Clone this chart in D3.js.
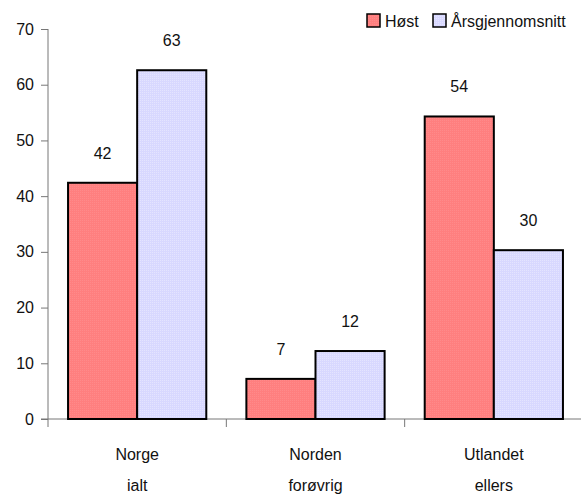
<!DOCTYPE html>
<html>
<head>
<meta charset="utf-8">
<script src="https://cdn.jsdelivr.net/npm/d3@7"></script>
<style>
  body { margin: 0; background: #fff; }
  svg { display: block; font-family: "Liberation Sans", Arial, sans-serif; }
</style>
</head>
<body>
<svg id="chart" width="581" height="494"></svg>
<script>
const categories = [["Norge", "ialt"], ["Norden", "forøvrig"], ["Utlandet", "ellers"]];
const seriesNames = ["Høst", "Årsgjennomsnitt"];
const host = [42.4, 7.2, 54.3];
const aarsgjennomsnitt = [62.6, 12.2, 30.3];
const hostLabels = ["42", "7", "54"];
const aarsLabels = ["63", "12", "30"];
const yTicks = [0, 10, 20, 30, 40, 50, 60, 70];

const colors = ["#ff7f7f", "#d8d8ff"];
const svg = d3.select("#chart");

// pattern fills to mimic dithered texture
const defs = svg.append("defs");
colors.forEach((c, i) => {
  const p = defs.append("pattern").attr("id", "pat" + i).attr("width", 2).attr("height", 2)
    .attr("patternUnits", "userSpaceOnUse");
  p.append("rect").attr("width", 2).attr("height", 2).attr("fill", c);
  p.append("rect").attr("width", 1).attr("height", 1).attr("fill", i === 0 ? "#ff8a8a" : "#e4e4ff");
});

const x0 = 48, x1 = 583, yTop = 29, yBot = 419;
const x = d3.scaleBand().domain(d3.range(categories.length)).range([x0, x1]).paddingInner(0).paddingOuter(0);
const y = d3.scaleLinear().domain([0, 70]).range([yBot, yTop]);
const inner = d3.scaleBand().domain([0, 1]).range([0, x.bandwidth()]).paddingOuter(0.29).paddingInner(0);

const axisColor = "#777";

// y axis
const yAxis = d3.axisLeft(y).tickValues(yTicks).tickSize(7).tickPadding(7).tickFormat(d3.format("d"));
const gy = svg.append("g").attr("transform", `translate(${x0},0)`).call(yAxis);
gy.select(".domain").remove();
gy.selectAll(".tick line").attr("stroke", axisColor);
gy.selectAll(".tick text").attr("font-size", 16).attr("fill", "#111");
svg.append("line").attr("x1", x0).attr("x2", x0).attr("y1", yTop).attr("y2", yBot + 8).attr("stroke", axisColor);

// x axis
svg.append("line").attr("x1", x0 - 7).attr("x2", 581).attr("y1", yBot).attr("y2", yBot).attr("stroke", axisColor);
d3.range(1, categories.length).forEach(i => {
  svg.append("line").attr("x1", x(i)).attr("x2", x(i)).attr("y1", yBot).attr("y2", yBot + 8).attr("stroke", axisColor);
});

// bars
const series = [host, aarsgjennomsnitt];
const labels = [hostLabels, aarsLabels];
series.forEach((vals, s) => {
  svg.append("g").selectAll("rect").data(vals).join("rect")
    .attr("x", (d, i) => x(i) + inner(s))
    .attr("y", d => y(d))
    .attr("width", inner.bandwidth())
    .attr("height", d => y(0) - y(d))
    .attr("fill", `url(#pat${s})`)
    .attr("stroke", "#000").attr("stroke-width", 2);
  svg.append("g").selectAll("text").data(vals).join("text")
    .attr("x", (d, i) => x(i) + inner(s) + inner.bandwidth() / 2)
    .attr("y", d => y(d) - 24)
    .attr("text-anchor", "middle").attr("font-size", 16).attr("fill", "#111")
    .text((d, i) => labels[s][i]);
});

// category labels
categories.forEach((c, i) => {
  c.forEach((line, k) => {
    svg.append("text").attr("x", x(i) + inner(1)).attr("y", 460 + k * 31)
      .attr("text-anchor", "middle").attr("font-size", 16).attr("fill", "#111").text(line);
  });
});

// legend
const legend = [{ x: 367, tx: 385 }, { x: 433, tx: 451 }];
legend.forEach((l, i) => {
  svg.append("rect").attr("x", l.x).attr("y", 14).attr("width", 13).attr("height", 13)
    .attr("fill", `url(#pat${i})`).attr("stroke", "#000").attr("stroke-width", 1.5);
  svg.append("text").attr("x", l.tx).attr("y", 27).attr("font-size", 16).attr("fill", "#111").text(seriesNames[i]);
});
</script>
</body>
</html>
